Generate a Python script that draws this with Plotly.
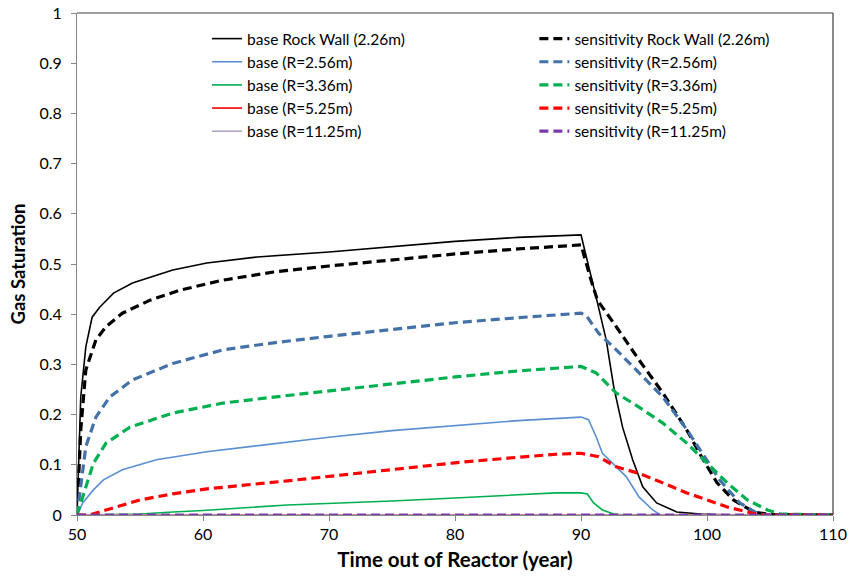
import plotly.graph_objects as go

# ---------------- data ----------------
base_rock_x = [50, 50.3, 50.7, 51.2, 51.8, 52.9, 54.4, 57.6, 60.3, 64.3, 70, 75, 80, 85, 90,
               91.2, 92.0, 92.6, 93.3, 94.1, 94.9, 96.0, 97.6, 99.5, 102, 110]
base_rock_y = [0, 0.236, 0.335, 0.394, 0.414, 0.442, 0.462, 0.488, 0.502, 0.514, 0.524, 0.535, 0.545, 0.553, 0.558,
               0.434, 0.349, 0.255, 0.175, 0.11, 0.056, 0.024, 0.006, 0.002, 0, 0]

sens_rock_x = [50, 50.3, 50.7, 51.5, 52.3, 53.6, 55.8, 58.2, 61.6, 65.6, 70, 75, 80, 85, 90,
               90.8, 91.3, 92.8, 94.6, 96.5, 98.4, 99.7, 100.8, 102.1, 103.7, 105, 110]
sens_rock_y = [0, 0.17, 0.289, 0.349, 0.375, 0.402, 0.428, 0.448, 0.468, 0.484, 0.496, 0.508, 0.52, 0.53, 0.538,
               0.468, 0.428, 0.375, 0.309, 0.243, 0.169, 0.11, 0.064, 0.03, 0.006, 0.001, 0]

base_256_x = [50, 50.45, 51.3, 52.1, 53.6, 56.3, 60.3, 66.7, 70, 75, 80, 85, 90,
              90.6, 91.2, 91.7, 92.8, 93.6, 94.6, 95.7, 96.3, 110]
base_256_y = [0, 0.024, 0.05, 0.07, 0.09, 0.11, 0.126, 0.145, 0.155, 0.168, 0.178, 0.188, 0.195,
              0.19, 0.156, 0.123, 0.096, 0.076, 0.036, 0.01, 0, 0]

sens_256_x = [50, 50.2, 50.7, 51.5, 52.6, 54.4, 57.6, 61.6, 65.6, 70, 75, 80, 85, 90,
              90.4, 91.4, 92.8, 94.6, 96.5, 98.4, 100, 101, 102.6, 104.2, 110]
sens_256_y = [0, 0.036, 0.136, 0.195, 0.235, 0.269, 0.302, 0.329, 0.343, 0.356, 0.370, 0.383, 0.393, 0.402,
              0.398, 0.362, 0.329, 0.283, 0.235, 0.17, 0.11, 0.07, 0.024, 0, 0]

base_336_x = [50, 55, 57.6, 60, 66.7, 70, 75, 80, 85, 88, 90, 90.5, 91.0, 91.7, 92.6, 93.5, 110]
base_336_y = [0, 0.002, 0.006, 0.009, 0.02, 0.023, 0.028, 0.034, 0.04, 0.044, 0.044, 0.042, 0.024, 0.01, 0.002, 0, 0]

sens_336_x = [50, 50.45, 51.3, 52.3, 54.2, 57.6, 61.6, 66.7, 70, 75, 80, 85, 90,
              91.2, 92.8, 94.6, 96.5, 98.4, 100, 101.6, 103.2, 104.8, 105.8, 110]
sens_336_y = [0, 0.036, 0.103, 0.143, 0.175, 0.203, 0.223, 0.238, 0.247, 0.262, 0.275, 0.287, 0.296,
              0.283, 0.243, 0.215, 0.183, 0.143, 0.104, 0.064, 0.03, 0.01, 0.002, 0]

base_525_x = [50, 110]
base_525_y = [0, 0]

sens_525_x = [50, 51, 52.3, 55, 57.6, 60.3, 66.7, 70, 75, 80, 85, 88, 90,
              91.4, 92.8, 94.6, 96.5, 98.4, 100, 101.6, 103.2, 104.2, 110]
sens_525_y = [0, 0, 0.01, 0.03, 0.042, 0.052, 0.068, 0.077, 0.092, 0.104, 0.115, 0.121, 0.123,
              0.116, 0.096, 0.083, 0.064, 0.044, 0.03, 0.016, 0.006, 0, 0]

base_1125_x = [50, 110]
base_1125_y = [0, 0]
sens_1125_x = [50, 110]
sens_1125_y = [0, 0]

base_names = ["base Rock Wall (2.26m)", "base (R=2.56m)", "base (R=3.36m)",
              "base (R=5.25m)", "base (R=11.25m)"]
sens_names = ["sensitivity Rock Wall (2.26m)", "sensitivity (R=2.56m)", "sensitivity (R=3.36m)",
              "sensitivity (R=5.25m)", "sensitivity (R=11.25m)"]

base_colors = ["#000000", "#5B8FD4", "#00B050", "#FF0000", "#B3A2C7"]
sens_colors = ["#000000", "#4472A8", "#00B050", "#FF0000", "#7A3BAA"]

base_series = [(base_rock_x, base_rock_y), (base_256_x, base_256_y), (base_336_x, base_336_y),
               (base_525_x, base_525_y), (base_1125_x, base_1125_y)]
sens_series = [(sens_rock_x, sens_rock_y), (sens_256_x, sens_256_y), (sens_336_x, sens_336_y),
               (sens_525_x, sens_525_y), (sens_1125_x, sens_1125_y)]

FONT = "Lato, 'Open Sans', sans-serif"

fig = go.Figure()
for (x, y), name, col in zip(base_series, base_names, base_colors):
    fig.add_trace(go.Scatter(x=x, y=y, mode="lines", name=name, legend="legend",
                             line=dict(color=col, width=1.6)))
for (x, y), name, col in zip(sens_series, sens_names, sens_colors):
    fig.add_trace(go.Scatter(x=x, y=y, mode="lines", name=name, legend="legend2",
                             line=dict(color=col, width=3.2, dash="9px,5px")))

fig.update_layout(
    width=852, height=576,
    margin=dict(l=77, r=19, t=13, b=61),
    plot_bgcolor="white", paper_bgcolor="white",
    font=dict(family=FONT, color="#000000", size=15),
    legend=dict(x=0.172, y=0.982, xanchor="left", yanchor="top",
                bgcolor="rgba(0,0,0,0)", font=dict(size=15.5, family=FONT),
                tracegroupgap=0),
    legend2=dict(x=0.605, y=0.982, xanchor="left", yanchor="top",
                 bgcolor="rgba(0,0,0,0)", font=dict(size=15.5, family=FONT),
                 tracegroupgap=0),
    xaxis=dict(range=[50, 110], tickmode="array", tickvals=[50, 60, 70, 80, 90, 100, 110],
               ticks="outside", ticklen=5, tickcolor="#868686", tickwidth=1,
               showline=True, linecolor="#868686", linewidth=1, showgrid=False, zeroline=False,
               tickfont=dict(size=16, family=FONT), automargin=False,
               title=dict(text="<b>Time out of Reactor (year)</b>", font=dict(size=20.5, family=FONT), standoff=10)),
    yaxis=dict(range=[0, 1], tickmode="array", tickvals=[0, 0.1, 0.2, 0.3, 0.4, 0.5, 0.6, 0.7, 0.8, 0.9, 1],
               ticktext=["0", "0.1", "0.2", "0.3", "0.4", "0.5", "0.6", "0.7", "0.8", "0.9", "1"],
               ticks="outside", ticklen=5, tickcolor="#868686", tickwidth=1,
               showline=True, linecolor="#868686", linewidth=1, showgrid=False, zeroline=False,
               tickfont=dict(size=16, family=FONT), ticklabelstandoff=6, automargin=False,
               title=dict(text="<b>Gas Saturation</b>", font=dict(size=18.5, family=FONT), standoff=8)),
    showlegend=True,
)

# plot-area frame (top and right borders)
fig.add_shape(type="line", xref="paper", yref="paper", x0=0, x1=1, y0=1, y1=1,
              line=dict(color="#404040", width=1.2), layer="above")
fig.add_shape(type="line", xref="paper", yref="paper", x0=1, x1=1, y0=0, y1=1,
              line=dict(color="#404040", width=1.2), layer="above")

fig.write_html("out.html")
